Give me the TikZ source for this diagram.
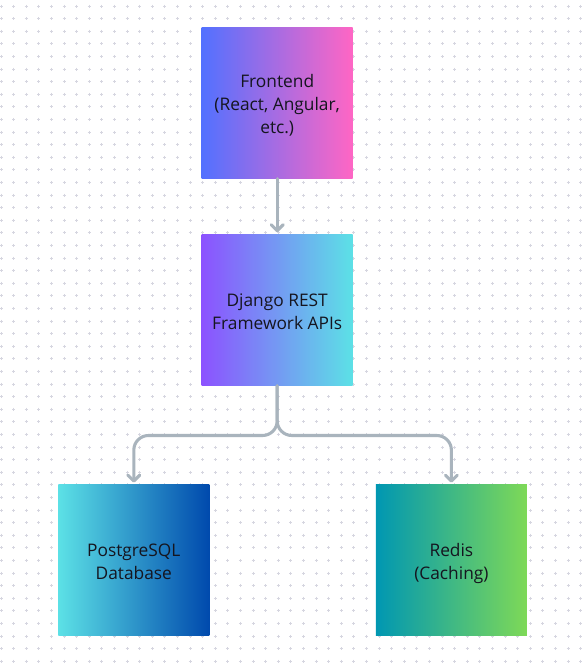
\documentclass[tikz,border=0pt]{standalone}
\usepackage{fontspec}
\setmainfont{Open Sans}
\usetikzlibrary{arrows.meta}
\definecolor{dotc}{HTML}{D6D6E0}
\definecolor{linec}{HTML}{A9B4BD}
\definecolor{txt}{HTML}{15151F}
\definecolor{feL}{HTML}{5271FF}
\definecolor{feR}{HTML}{FF66C4}
\definecolor{djL}{HTML}{8C52FF}
\definecolor{djR}{HTML}{5CE1E6}
\definecolor{pgL}{HTML}{5CE1E6}
\definecolor{pgR}{HTML}{004AAD}
\definecolor{rdL}{HTML}{0097B2}
\definecolor{rdR}{HTML}{7ED957}
\newcommand{\boxtext}[1]{\raisebox{0pt}[\dimexpr\height+4.5pt\relax][\depth]{\begin{tabular}{@{}c@{}}#1\end{tabular}}}
\tikzset{
  box/.style={minimum width=113.25pt, minimum height=113.25pt, inner sep=0pt,
    align=center, text=txt, font=\fontsize{13pt}{17.25pt}\selectfont},
  conn/.style={draw=linec, line width=2.3pt, line cap=round, line join=round,
    -{Straight Barb[length=4.5pt,width=9pt,line cap=round,line join=round]}},
  dotmark/.style={draw=dotc, line width=0.6pt}
}
\begin{document}
\begin{tikzpicture}[x=0.75pt,y=-0.75pt]
\useasboundingbox (0,0) rectangle (582,668);
\fill[white] (0,0) rectangle (582,668);
\foreach \i in {0,...,46}{
  \foreach \j in {0,...,53}{
    \pgfmathsetmacro{\px}{1+12.6*\i}
    \pgfmathsetmacro{\py}{6+12.6*\j}
    \draw[dotmark] (\px-1.5,\py) -- (\px+1.5,\py) (\px,\py-1.5) -- (\px,\py+1.5);
  }
}
\node[box, left color=feL, right color=feR] (fe) at (277.2,102.8) {\boxtext{Frontend\\(React, Angular,\\etc.)}};
\node[box, left color=djL, right color=djR] (dj) at (277.2,310) {\boxtext{Django REST\\Framework APIs}};
\node[box, left color=pgL, right color=pgR] (pg) at (133.8,560.4) {\boxtext{PostgreSQL\\Database}};
\node[box, left color=rdL, right color=rdR] (rd) at (451.4,560.4) {\boxtext{Redis\\(Caching)}};
\coordinate (j) at (277.2,435.5);
\draw[conn, shorten >=1.5pt] (fe.south) -- (dj.north);
\draw[conn, rounded corners=11pt, shorten >=1.5pt] (dj.south) -- (j) -| (pg.north);
\draw[conn, rounded corners=11pt, shorten >=1.5pt] (dj.south) -- (j) -| (rd.north);
\end{tikzpicture}
\end{document}
